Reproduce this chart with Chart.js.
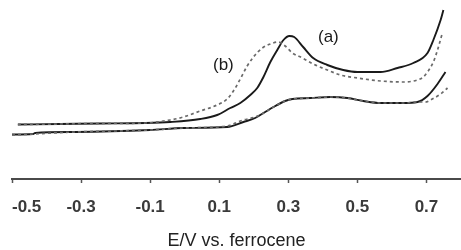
<!DOCTYPE html>
<html>
<head>
<meta charset="utf-8">
<script src="https://cdn.jsdelivr.net/npm/chart.js@4.4.1/dist/chart.umd.min.js"></script>
<style>
  html, body { margin: 0; padding: 0; background: #fff; }
  #wrap { width: 461px; height: 250px; }
</style>
</head>
<body>
<div id="wrap"><canvas id="cv"></canvas></div>
<script>
// potentials (V vs. ferrocene) and currents (arbitrary units)
const aSolidX = [-0.483, -0.361, -0.245, -0.114, -0.042, 0.045, 0.094, 0.132, 0.161, 0.190, 0.210, 0.228, 0.248, 0.268, 0.286, 0.303, 0.317, 0.343, 0.372, 0.413, 0.459, 0.500, 0.567, 0.616, 0.662, 0.703, 0.720, 0.741, 0.749];
const aSolidY = [54.5, 55, 55.5, 56, 57, 60, 64, 71, 76, 84, 91, 102, 117, 129, 139, 143, 142, 132, 121, 114, 109, 107, 107, 111, 116, 126, 139, 159, 169];

const bDashX = [-0.483, -0.361, -0.245, -0.114, -0.042, -0.004, 0.045, 0.094, 0.123, 0.141, 0.161, 0.181, 0.199, 0.225, 0.248, 0.271, 0.291, 0.312, 0.341, 0.372, 0.413, 0.451, 0.500, 0.567, 0.633, 0.674, 0.691, 0.703, 0.720, 0.732, 0.746];
const bDashY = [54.5, 55, 55.5, 56, 59, 62, 68, 74, 80, 88, 100, 113, 122, 131, 135, 137, 133, 126, 121, 115, 109, 104, 101, 98, 97, 99, 102, 107, 117, 129, 146];

const lowSolidX = [-0.500, -0.439, -0.433, -0.317, -0.100, -0.004, 0.123, 0.170, 0.204, 0.233, 0.257, 0.291, 0.312, 0.364, 0.422, 0.471, 0.517, 0.567, 0.633, 0.674, 0.703, 0.732, 0.755];
const lowSolidY = [44.5, 45, 46, 47, 49, 51, 52, 57, 61, 67, 72, 78, 80, 81, 82, 81, 78, 76, 76, 77, 83, 95, 107];

const lowDashX = [-0.500, -0.439, -0.317, -0.100, -0.004, 0.123, 0.161, 0.219, 0.257, 0.291, 0.312, 0.364, 0.422, 0.471, 0.517, 0.567, 0.633, 0.674, 0.697, 0.717, 0.741, 0.761];
const lowDashY = [44, 45, 47, 49, 51, 53, 58, 64, 72, 78, 80, 81, 82, 81, 78, 76, 76, 77, 77, 80, 85, 91];

const tickValues = [-0.5, -0.3, -0.1, 0.1, 0.3, 0.5, 0.7];
const curveLabels = ['(a)', '(b)'];
const curveLabelX = [0.416, 0.112];
const curveLabelY = [142, 114];

const xMin = -0.5, xMax = 0.8;
const FONT = '"Liberation Sans", Arial, sans-serif';

function pts(xs, ys) {
    return xs.map((x, i) => ({ x: x, y: ys[i] }));
}

const labelPlugin = {
    id: 'curveLabels',
    afterDatasetsDraw(chart) {
        const ctx = chart.ctx;
        const xs = chart.scales.x, ys = chart.scales.y;
        ctx.save();
        ctx.font = '17px ' + FONT;
        ctx.fillStyle = '#1a1a1a';
        ctx.textAlign = 'center';
        ctx.textBaseline = 'middle';
        curveLabels.forEach((t, i) => {
            ctx.fillText(t, xs.getPixelForValue(curveLabelX[i]), ys.getPixelForValue(curveLabelY[i]));
        });
        ctx.restore();
    }
};

const solid = { borderColor: '#1a1a1a', borderWidth: 1.9 };
const dashed = { borderColor: '#6a6a6a', borderWidth: 1.7, borderDash: [3, 3] };

new Chart(document.getElementById('cv'), {
    type: 'line',
    data: {
        datasets: [
            Object.assign({ data: pts(lowDashX, lowDashY) }, dashed),
            Object.assign({ data: pts(lowSolidX, lowSolidY) }, solid),
            Object.assign({ data: pts(bDashX, bDashY) }, dashed),
            Object.assign({ data: pts(aSolidX, aSolidY) }, solid)
        ]
    },
    options: {
        responsive: true,
        maintainAspectRatio: false,
        animation: false,
        events: [],
        layout: { padding: { left: 12, right: 0, top: 0, bottom: 0 } },
        elements: {
            point: { radius: 0 },
            line: { tension: 0.4, cubicInterpolationMode: 'monotone' }
        },
        plugins: { legend: { display: false }, tooltip: { enabled: false } },
        scales: {
            x: {
                type: 'linear',
                min: xMin,
                max: xMax,
                afterBuildTicks(scale) {
                    scale.ticks = tickValues.concat([xMax]).map(v => ({ value: v }));
                },
                afterFit(scale) {
                    scale.height = 71;
                    scale.paddingLeft = 0;
                    scale.paddingRight = 0;
                },
                ticks: {
                    align: 'inner',
                    maxRotation: 0,
                    autoSkip: false,
                    padding: 14,
                    color: '#3a3a3a',
                    font: { family: FONT, size: 17, weight: 'bold' },
                    callback: (v) => v === xMax ? '' : v.toFixed(1)
                },
                grid: {
                    drawOnChartArea: false,
                    tickLength: 4,
                    tickWidth: 1.5,
                    color: (c) => (c.tick && c.tick.value === xMax) ? 'rgba(0,0,0,0)' : '#555'
                },
                border: { display: true, color: '#4a4a4a', width: 2 },
                title: {
                    display: true,
                    text: 'E/V vs. ferrocene',
                    color: '#222',
                    font: { family: FONT, size: 18, lineHeight: 1 },
                    padding: 0
                }
            },
            y: {
                display: false,
                min: 0,
                max: 179
            }
        }
    },
    plugins: [labelPlugin]
});
</script>
</body>
</html>
